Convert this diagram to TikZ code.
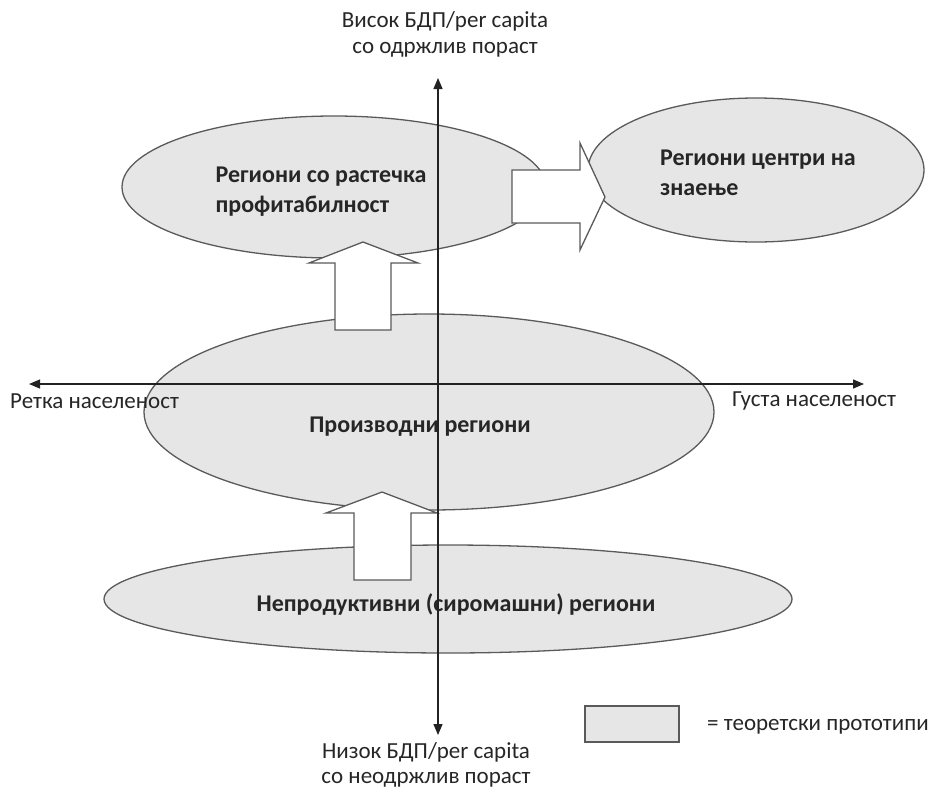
\documentclass[tikz,border=0pt]{standalone}
\usepackage{fontspec}
\setmainfont{Carlito}
\usetikzlibrary{shapes.geometric,arrows.meta}
\definecolor{regfill}{HTML}{E6E6E6}
\definecolor{regline}{HTML}{5A5A5A}
\definecolor{axisline}{HTML}{222222}
\definecolor{txt}{HTML}{262626}
\tikzset{
  region/.style={ellipse, draw=regline, fill=regfill, line width=1.3pt, inner sep=0pt},
  regtext/.style={font=\fontsize{24}{30}\selectfont\bfseries, text=txt, align=left, inner sep=0pt},
  axtext/.style={font=\fontsize{23}{26}\selectfont, text=txt, align=center, inner sep=0pt},
  blockarrow/.style={draw=regline, fill=white, line width=1.3pt, line join=miter},
  axis/.style={draw=axisline, line width=1.3pt, -{Triangle[length=11pt,width=9pt]}},
}
\begin{document}
\begin{tikzpicture}[x=1pt,y=-1pt]
\useasboundingbox (0,0) rectangle (929,793);
% regions
\node[region, minimum width=424pt, minimum height=142pt] (r1) at (334,187) {};
\node[region, minimum width=336pt, minimum height=144pt] (r2) at (756,170) {};
\node[region, minimum width=570pt, minimum height=196pt] (r3) at (429,412) {};
\node[region, minimum width=688pt, minimum height=108pt] (r4) at (448,599) {};
% texts
\node[regtext] (t1) at (321,192) {Региони со растечка\\профитабилност};
\node[regtext] (t2) at (758,173) {Региони центри на\\знаење};
\node[regtext] (t3) at (420,427) {Производни региони};
\node[regtext] (t4) at (456,605) {Непродуктивни (сиромашни) региони};
% block arrows
\draw[blockarrow] (512,170) -- (580,170) -- (580,143) -- (605,197) -- (580,250) -- (580,223) -- (512,223) -- cycle;
\draw[blockarrow] (335,330) -- (335,263) -- (309,263) -- (363,242) -- (418,263) -- (391,263) -- (391,330) -- cycle;
\draw[blockarrow] (354,580) -- (354,513) -- (326,513) -- (382,492) -- (437,513) -- (411,513) -- (411,580) -- cycle;
% axes
\coordinate (ytop) at (438,78);
\coordinate (ybot) at (438,735);
\coordinate (xleft) at (29,384);
\coordinate (xright) at (864,384);
\coordinate (o) at (438,384);
\draw[axis] (o) -- (ytop);
\draw[axis] (o) -- (ybot);
\draw[axis] (o) -- (xleft);
\draw[axis] (o) -- (xright);
% axis labels
\node[axtext] (lt) at (445,34) {Висок БДП/per capita\\со одржлив пораст};
\node[axtext, font=\fontsize{23}{25}\selectfont] (lb) at (426,765) {Низок БДП/per capita\\со неодржлив пораст};
\node[axtext, anchor=west] (ll) at (10,401) {Ретка населеност};
\node[axtext, anchor=west] (lr) at (732,401) {Густа населеност};
% legend
\node[draw=regline, fill=regfill, line width=1.3pt, minimum width=94pt, minimum height=36pt, inner sep=0pt] (leg) at (632,724) {};
\node[axtext, anchor=west] (legt) at (707,727) {= теоретски прототипи};
\end{tikzpicture}
\end{document}
